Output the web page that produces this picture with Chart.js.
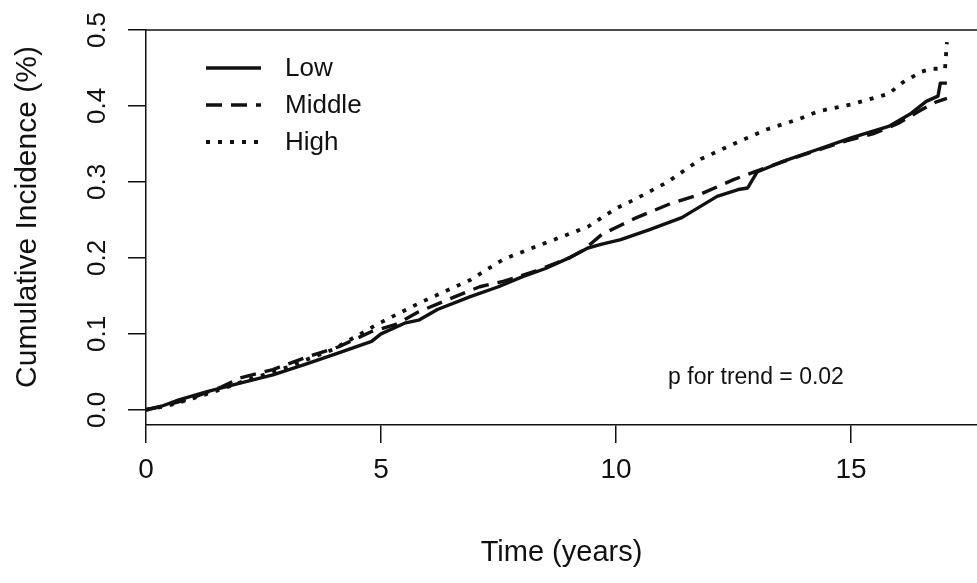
<!DOCTYPE html>
<html>
<head>
<meta charset="utf-8">
<title>Cumulative incidence</title>
<script src="https://cdn.jsdelivr.net/npm/chart.js@4/dist/chart.umd.min.js"></script>
<style>
  html, body { margin: 0; padding: 0; background: #fff; }
  #wrap { width: 977px; height: 583px; }
</style>
</head>
<body>
<div id="wrap"><canvas id="incidenceChart" width="977" height="583"></canvas></div>
<script>
// Values
const xTicks = [0, 5, 10, 15];
const yTicks = [0, 0.1, 0.2, 0.3, 0.4, 0.5];
const yTickLabels = ['0.0', '0.1', '0.2', '0.3', '0.4', '0.5'];
const seriesNames = ['Low', 'Middle', 'High'];

const lowTime = [0, 0.3, 0.7, 1.3, 2.0, 2.7, 3.4, 4.1, 4.8, 5.0, 5.5, 5.8, 6.2, 6.9, 7.5, 8.0, 8.5, 9.0, 9.4, 9.7, 10.1, 10.7, 11.4, 12.15, 12.6, 12.8, 13.0, 13.55, 14.3, 15.0, 15.8, 16.25, 16.6, 16.85, 16.9, 17.04];
const lowValue = [0, 0.004, 0.013, 0.024, 0.035, 0.046, 0.06, 0.075, 0.09, 0.1, 0.114, 0.118, 0.132, 0.149, 0.162, 0.175, 0.186, 0.2, 0.213, 0.218, 0.224, 0.237, 0.253, 0.281, 0.29, 0.292, 0.313, 0.327, 0.343, 0.358, 0.373, 0.389, 0.406, 0.413, 0.43, 0.43];

const midTime = [0, 0.5, 1.0, 1.6, 2.0, 2.7, 3.4, 4.1, 4.8, 5.3, 5.8, 6.5, 7.1, 7.6, 8.3, 9.0, 9.3, 9.7, 10.1, 10.4, 11.1, 11.8, 12.5, 13.2, 13.9, 14.9, 15.5, 16.0, 16.5, 16.8, 17.04];
const midValue = [0, 0.007, 0.016, 0.03, 0.042, 0.053, 0.069, 0.083, 0.103, 0.112, 0.129, 0.147, 0.162, 0.169, 0.183, 0.2, 0.21, 0.231, 0.243, 0.252, 0.27, 0.284, 0.303, 0.319, 0.334, 0.354, 0.364, 0.377, 0.395, 0.405, 0.41];

const highTime = [0, 0.5, 1.0, 1.6, 2.0, 3.0, 4.0, 4.9, 5.83, 6.9, 7.6, 8.3, 9.4, 10.0, 10.4, 11.1, 11.8, 12.5, 13.2, 13.9, 14.3, 15.0, 15.8, 16.1, 16.5, 16.7, 17.0, 17.04];
const highValue = [0, 0.006, 0.015, 0.027, 0.036, 0.056, 0.08, 0.112, 0.141, 0.171, 0.198, 0.215, 0.241, 0.265, 0.277, 0.30, 0.33, 0.35, 0.369, 0.383, 0.393, 0.402, 0.416, 0.431, 0.445, 0.449, 0.449, 0.484];

const FONT = '"Liberation Sans", Arial, sans-serif';
const INK = '#111';

function toPoints(times, values) {
  return times.map((t, i) => ({ x: t, y: values[i] }));
}

const lineStyles = [
  { width: 3.4, dash: [] },
  { width: 3.4, dash: [16, 9] },
  { width: 3.8, dash: [4, 8] }
];

const datasets = [
  toPoints(lowTime, lowValue),
  toPoints(midTime, midValue),
  toPoints(highTime, highValue)
].map((pts, i) => ({
  label: seriesNames[i],
  data: pts,
  showLine: true,
  borderColor: INK,
  borderWidth: lineStyles[i].width,
  borderDash: lineStyles[i].dash,
  borderCapStyle: 'butt',
  borderJoinStyle: 'round',
  pointRadius: 0,
  tension: 0,
  fill: false
}));

// Text, legend and top frame line drawn after the chart
const annotations = {
  id: 'annotations',
  afterDraw(chart) {
    const { ctx, chartArea, scales } = chart;
    const x = scales.x, y = scales.y;
    ctx.save();

    // top frame
    ctx.strokeStyle = INK;
    ctx.lineWidth = 1.5;
    ctx.beginPath();
    ctx.moveTo(chartArea.left, chartArea.top);
    ctx.lineTo(chartArea.right, chartArea.top);
    ctx.stroke();

    ctx.fillStyle = INK;
    ctx.textAlign = 'center';
    ctx.textBaseline = 'middle';

    // x tick labels
    ctx.font = '28px ' + FONT;
    xTicks.forEach(v => ctx.fillText(String(v), x.getPixelForValue(v), 470));

    // y tick labels (rotated)
    ctx.font = '26px ' + FONT;
    yTicks.forEach((v, i) => {
      ctx.save();
      ctx.translate(98, y.getPixelForValue(v));
      ctx.rotate(-Math.PI / 2);
      ctx.fillText(yTickLabels[i], 0, 0);
      ctx.restore();
    });

    // axis titles
    ctx.font = '29px ' + FONT;
    ctx.fillText('Time (years)', (chartArea.left + chartArea.right) / 2, 553);
    ctx.font = '30px ' + FONT;
    ctx.save();
    ctx.translate(28, 217);
    ctx.rotate(-Math.PI / 2);
    ctx.fillText('Cumulative Incidence (%)', 0, 0);
    ctx.restore();

    // legend
    ctx.font = '26px ' + FONT;
    ctx.textAlign = 'left';
    const rows = [68, 105, 142];
    chart.data.datasets.forEach((ds, i) => {
      ctx.save();
      ctx.strokeStyle = ds.borderColor;
      ctx.lineWidth = ds.borderWidth;
      ctx.setLineDash(ds.borderDash);
      ctx.beginPath();
      ctx.moveTo(206, rows[i]);
      ctx.lineTo(261, rows[i]);
      ctx.stroke();
      ctx.restore();
      ctx.fillText(ds.label, 285, rows[i] + 1);
    });

    // p for trend
    ctx.font = '23px ' + FONT;
    ctx.textAlign = 'center';
    ctx.fillText('p for trend = 0.02', 756, 378);

    ctx.restore();
  }
};

new Chart(document.getElementById('incidenceChart').getContext('2d'), {
  type: 'scatter',
  data: { datasets },
  options: {
    responsive: false,
    animation: false,
    layout: { padding: { top: 30, right: 0, bottom: 0, left: 0 } },
    plugins: {
      legend: { display: false },
      tooltip: { enabled: false }
    },
    scales: {
      x: {
        type: 'linear',
        min: 0,
        max: 17.68,
        afterBuildTicks: s => { s.ticks = xTicks.map(v => ({ value: v })); },
        afterFit: s => { s.height = 158; },
        ticks: { display: false },
        grid: { display: true, drawOnChartArea: false, drawTicks: true, tickLength: 18, color: INK, lineWidth: 1.5 },
        border: { display: true, color: INK, width: 1.5 }
      },
      y: {
        type: 'linear',
        min: -0.02,
        max: 0.5,
        afterBuildTicks: s => { s.ticks = yTicks.map(v => ({ value: v })); },
        afterFit: s => { s.width = 146; },
        ticks: { display: false },
        grid: { display: true, drawOnChartArea: false, drawTicks: true, tickLength: 18, color: INK, lineWidth: 1.5 },
        border: { display: true, color: INK, width: 1.5 }
      }
    }
  },
  plugins: [annotations]
});
</script>
</body>
</html>
